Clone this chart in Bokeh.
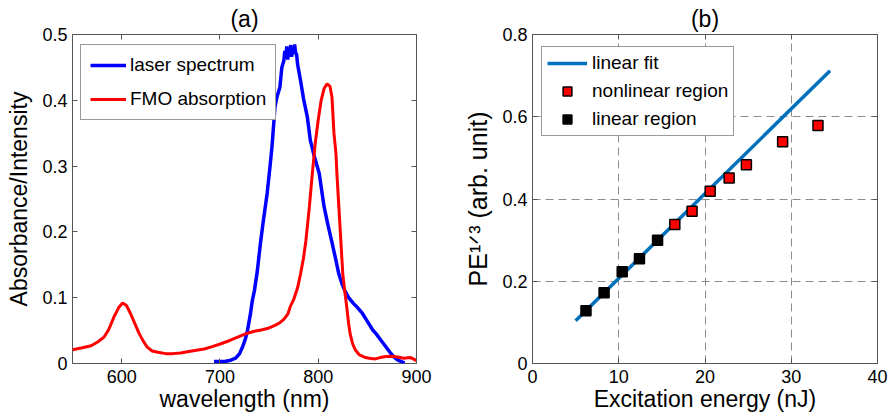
from bokeh.plotting import figure
from bokeh.layouts import row
from bokeh.models import (Range1d, FixedTicker, LinearAxis, Legend, LegendItem, Title)
from bokeh.embed import file_html
from bokeh.resources import INLINE

# ---------------- Panel (a) data ----------------
laser_wl = [694, 705, 711, 716, 720, 723, 726, 728, 731, 733, 735, 738, 741, 744, 748,
            751, 753, 756, 758, 761, 763, 765, 766, 767, 768, 769, 770, 771, 772, 773,
            774, 775, 776, 777, 778, 779, 782, 785, 789, 792, 796, 801, 806, 810, 814,
            818, 821, 824, 827, 831, 836, 840, 845, 850, 855, 859, 864, 869, 873, 877,
            881, 886, 888]
laser_int = [0.003, 0.003, 0.005, 0.008, 0.015, 0.025, 0.038, 0.050, 0.075, 0.096, 0.110,
             0.140, 0.180, 0.215, 0.258, 0.300, 0.330, 0.390, 0.405, 0.420, 0.450, 0.460,
             0.475, 0.465, 0.482, 0.462, 0.478, 0.468, 0.484, 0.466, 0.480, 0.470, 0.485,
             0.472, 0.470, 0.455, 0.430, 0.403, 0.374, 0.339, 0.315, 0.289, 0.238, 0.210,
             0.184, 0.157, 0.136, 0.122, 0.111, 0.100, 0.091, 0.085, 0.076, 0.064, 0.052,
             0.045, 0.035, 0.025, 0.017, 0.010, 0.005, 0.002, 0.001]

fmo_wl = [550, 560, 569, 576, 582, 587, 592, 597, 601, 605, 609, 613, 618, 622, 626, 631,
          637, 645, 652, 660, 667, 676, 684, 693, 701, 710, 718, 728, 735, 742, 750, 756,
          761, 765, 769, 772, 775, 779, 782, 785, 787.5, 791, 794, 797, 800, 803, 806, 809,
          812, 814, 816, 818, 819, 821, 823, 825, 827, 829, 831, 832.5, 835, 838, 842, 847,
          852, 858, 863, 869, 875, 881, 887, 894, 900]
fmo_abs = [0.021, 0.024, 0.027, 0.033, 0.040, 0.052, 0.070, 0.085, 0.092, 0.088, 0.076,
           0.062, 0.045, 0.034, 0.025, 0.019, 0.017, 0.015, 0.015, 0.016, 0.018, 0.020,
           0.022, 0.026, 0.030, 0.035, 0.040, 0.046, 0.049, 0.051, 0.054, 0.058, 0.062,
           0.067, 0.075, 0.088, 0.097, 0.115, 0.136, 0.160, 0.187, 0.238, 0.289, 0.335,
           0.370, 0.400, 0.418, 0.425, 0.421, 0.405, 0.350, 0.320, 0.289, 0.238, 0.187,
           0.136, 0.110, 0.086, 0.060, 0.045, 0.030, 0.020, 0.013, 0.0096, 0.008, 0.007,
           0.009, 0.0105, 0.011, 0.010, 0.008, 0.009, 0.0045]

a_xticks = [600, 700, 800, 900]
a_yticks = [0, 0.1, 0.2, 0.3, 0.4, 0.5]
a_ytick_labels = ["0", "0.1", "0.2", "0.3", "0.4", "0.5"]

# ---------------- Panel (b) data ----------------
linear_energy = [6.2, 8.3, 10.4, 12.4, 14.5]
linear_pe = [0.128, 0.172, 0.223, 0.255, 0.300]
nonlinear_energy = [16.5, 18.5, 20.6, 22.8, 24.8, 29.0, 33.1]
nonlinear_pe = [0.338, 0.370, 0.419, 0.451, 0.483, 0.539, 0.579]
fit_energy = [5.0, 34.5]
fit_pe = [0.104, 0.712]

b_xticks = [0, 10, 20, 30, 40]
b_yticks = [0, 0.2, 0.4, 0.6, 0.8]
b_ytick_labels = ["0", "0.2", "0.4", "0.6", "0.8"]

FONT = "Liberation Sans"
FRAME = "#555555"


def style(p, xticks, yticks, ylabels, xlabel, ylabel, ylabel_size, title, title_offset):
    p.outline_line_color = FRAME
    p.outline_line_width = 1
    p.background_fill_color = "white"
    p.border_fill_color = "white"
    xax = p.below[0]
    yax = p.left[0]
    xax.ticker = FixedTicker(ticks=xticks)
    yax.ticker = FixedTicker(ticks=yticks)
    yax.major_label_overrides = dict(zip(yticks, ylabels))
    xax.axis_label = xlabel
    yax.axis_label = ylabel
    for ax in (xax, yax):
        ax.axis_line_color = None
        ax.major_tick_in = 5
        ax.major_tick_out = 0
        ax.minor_tick_in = 0
        ax.minor_tick_out = 0
        ax.major_tick_line_color = FRAME
        ax.major_label_text_font = FONT
        ax.major_label_text_font_size = "18px"
        ax.major_label_text_color = "black"
        ax.axis_label_text_font = FONT
        ax.axis_label_text_font_size = "23px"
        ax.axis_label_text_font_style = "normal"
        ax.axis_label_text_color = "black"
    yax.axis_label_text_font_size = ylabel_size
    xax.major_label_standoff = 6
    xax.axis_label_standoff = 0
    yax.major_label_standoff = 5
    yax.axis_label_standoff = 7
    # mirrored inward ticks on top and right (no labels drawn)
    for place, ticks in (("above", xticks), ("right", yticks)):
        ax = LinearAxis(ticker=FixedTicker(ticks=ticks),
                        major_label_text_color=None, major_label_text_alpha=0,
                        major_label_text_font_size="1px",
                        major_tick_in=5, major_tick_out=0, minor_tick_in=0, minor_tick_out=0,
                        axis_line_color=None, major_tick_line_color=FRAME,
                        major_label_standoff=0)
        p.add_layout(ax, place)
    p.title = Title(text=title, align="center", offset=title_offset, standoff=6,
                    text_font=FONT, text_font_size="23px", text_font_style="normal",
                    text_color="black")
    return xax, yax


# ---------------- Panel (a) ----------------
p1 = figure(width=445, height=420, x_range=Range1d(550, 900), y_range=Range1d(0, 0.5),
            output_backend="svg", toolbar_location=None,
            min_border_left=72, min_border_right=29, min_border_top=34, min_border_bottom=57)
p1.grid.visible = False
style(p1, a_xticks, a_yticks, a_ytick_labels, "wavelength (nm)", "Absorbance/Intensity",
      "23px", "(a)", -8)

r_laser = p1.line(laser_wl, laser_int, line_color="#0000FF", line_width=3.5)
r_fmo = p1.line(fmo_wl, fmo_abs, line_color="#FF0000", line_width=3)

leg1 = Legend(items=[LegendItem(label="laser spectrum", renderers=[r_laser]),
                     LegendItem(label="FMO absorption", renderers=[r_fmo])],
              location=(8, 243), margin=0, padding=9, spacing=12,
              glyph_width=36, glyph_height=22, label_height=22, label_standoff=4,
              label_text_font=FONT, label_text_font_size="19px", label_text_color="black",
              border_line_color="#333333", border_line_width=1,
              background_fill_color="white", background_fill_alpha=1)
p1.add_layout(leg1)

# ---------------- Panel (b) ----------------
p2 = figure(width=445, height=420, x_range=Range1d(0, 40), y_range=Range1d(0, 0.8),
            output_backend="svg", toolbar_location=None,
            min_border_left=87, min_border_right=13, min_border_top=34, min_border_bottom=57)
style(p2, b_xticks, b_yticks, b_ytick_labels, "Excitation energy (nJ)",
      "PE\u00b9\u141f\u00b3 (arb. unit)", "25px", "(b)", -1)
for g, t in ((p2.xgrid, b_xticks), (p2.ygrid, b_yticks)):
    g.ticker = FixedTicker(ticks=t)
    g.grid_line_color = "#8c8c8c"
    g.grid_line_width = 1
    g.grid_line_dash = "8 5"

r_fit = p2.line(fit_energy, fit_pe, line_color="#0072BD", line_width=3.5)
r_nl = p2.scatter(nonlinear_energy, nonlinear_pe, marker="square", size=10,
                  fill_color="#FF0000", line_color="black", line_width=1.5)
r_l = p2.scatter(linear_energy, linear_pe, marker="square", size=10,
                 fill_color="black", line_color="black", line_width=1.5)

leg2 = Legend(items=[LegendItem(label="linear fit", renderers=[r_fit]),
                     LegendItem(label="nonlinear region", renderers=[r_nl]),
                     LegendItem(label="linear region", renderers=[r_l])],
              location=(9, 227), margin=0, padding=5, spacing=6,
              glyph_width=40, glyph_height=22, label_height=22, label_standoff=5,
              label_text_font=FONT, label_text_font_size="19px", label_text_color="black",
              border_line_color="#333333", border_line_width=1,
              background_fill_color="white", background_fill_alpha=1)
p2.add_layout(leg2)

layout = row(p1, p2)
open("out.html", "w").write(file_html(layout, INLINE))
